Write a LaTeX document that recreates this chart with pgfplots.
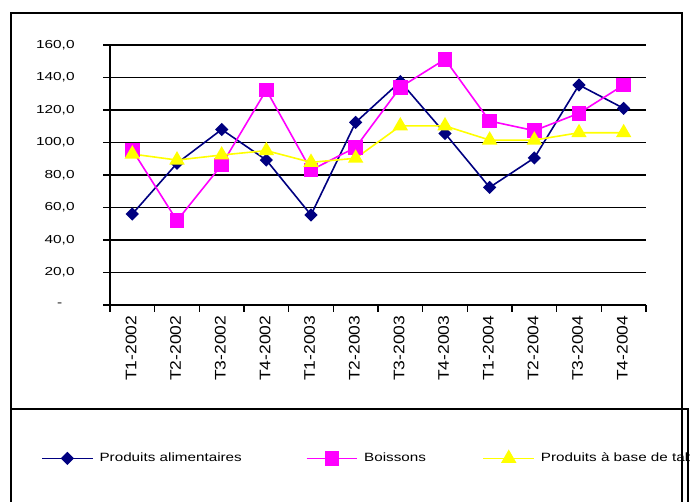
\documentclass[border=0pt]{standalone}
\usepackage{pgfplots}
\pgfplotsset{compat=1.18}
\usepackage{fontspec}
\setmainfont{Liberation Sans}

\definecolor{serA}{RGB}{0,0,128}
\definecolor{serB}{RGB}{255,0,255}
\definecolor{serC}{RGB}{255,255,0}

% Excel text here is drawn wider than Arial
\newcommand{\wx}[1]{\scalebox{1.33}[1]{#1}}
\newcommand{\wl}[1]{\scalebox{1.27}[1]{#1}}
\newcommand{\wrot}[1]{\scalebox{1.14}[1]{#1}}

\begin{document}
\begin{tikzpicture}
\clip (0,0) rectangle (517.5pt,375.75pt);
\draw[line width=1.1pt] (8.25pt,-5pt) rectangle (511.5pt,366pt);
\draw[line width=1.1pt] (8.25pt,-5pt) rectangle (516pt,69pt);
\begin{axis}[
    at={(82.5pt,147pt)}, anchor=south west,
    scale only axis, width=402pt, height=195pt,
    xmin=-0.5, xmax=11.5, ymin=0, ymax=160,
    axis lines=left,
    axis line style={-, line width=1.1pt},
    every outer x axis line/.append style={-},
    every outer y axis line/.append style={-},
    xtick={-0.5,0.5,...,11.5}, xticklabels={},
    extra x ticks={0,1,...,11},
    extra x tick labels={\wrot{T1-2002},\wrot{T2-2002},\wrot{T3-2002},\wrot{T4-2002},\wrot{T1-2003},\wrot{T2-2003},\wrot{T3-2003},\wrot{T4-2003},\wrot{T1-2004},\wrot{T2-2004},\wrot{T3-2004},\wrot{T4-2004}},
    extra x tick style={major tick length=0pt, grid=none,
        tick label style={rotate=90, anchor=east, xshift=-4.5pt, yshift=1pt,
        font=\fontsize{11.5}{12}\selectfont}},
    ytick={0,20,...,160},
    yticklabels={{\wx{-\hspace*{7pt}}},{\wx{20,0}},{\wx{40,0}},{\wx{60,0}},{\wx{80,0}},{\wx{100,0}},{\wx{120,0}},{\wx{140,0}},{\wx{160,0}}},
    yticklabel style={font=\fontsize{8.7}{10}\selectfont, xshift=-18pt},
    ymajorgrids, grid style={black, line width=0.9pt},
    tick style={black, line width=0.9pt},
    tick align=outside, major tick length=5pt,
    legend columns=3,
    legend style={draw=none, fill=none, inner sep=0pt,
        at={(-0.1287,-0.59)}, anchor=west,
        font=\fontsize{9}{10}\selectfont,
        /tikz/every odd column/.append style={column sep=2.5pt},
        /tikz/every even column/.append style={column sep=46pt}},
    legend image code/.code={\draw[mark repeat=2,mark phase=2,#1]
        plot coordinates {(0pt,0pt) (19pt,0pt) (38pt,0pt)};},
]
\addplot[color=serA, line width=1.2pt, mark=square*,
    mark options={rotate=45, solid}, mark size=2.9pt]
coordinates {(0,56) (1,87.2) (2,108) (3,89.2) (4,55.4) (5,112.4)
    (6,137.5) (7,105.6) (8,72.4) (9,90.5) (10,135.4) (11,121)};
\addlegendentry{\wl{Produits alimentaires}}
\addplot[color=serB, line width=1.2pt, mark=square*,
    mark options={solid}, mark size=4.9pt]
coordinates {(0,95.4) (1,51.9) (2,86.2) (3,132.3) (4,83) (5,97)
    (6,134) (7,151.2) (8,113.2) (9,107.3) (10,118) (11,135.4)};
\addlegendentry{\wl{Boissons}\hspace*{-5.5pt}}
\addplot[color=serC, line width=1.2pt, mark=triangle*,
    mark options={solid}, mark size=5.5pt]
coordinates {(0,92.9) (1,89.2) (2,92.3) (3,95) (4,87.8) (5,90.3)
    (6,110.2) (7,110.2) (8,101.5) (9,101.5) (10,106) (11,106)};
\addlegendentry{\wl{Produits à base de tabac}}
\end{axis}
\end{tikzpicture}
\end{document}
